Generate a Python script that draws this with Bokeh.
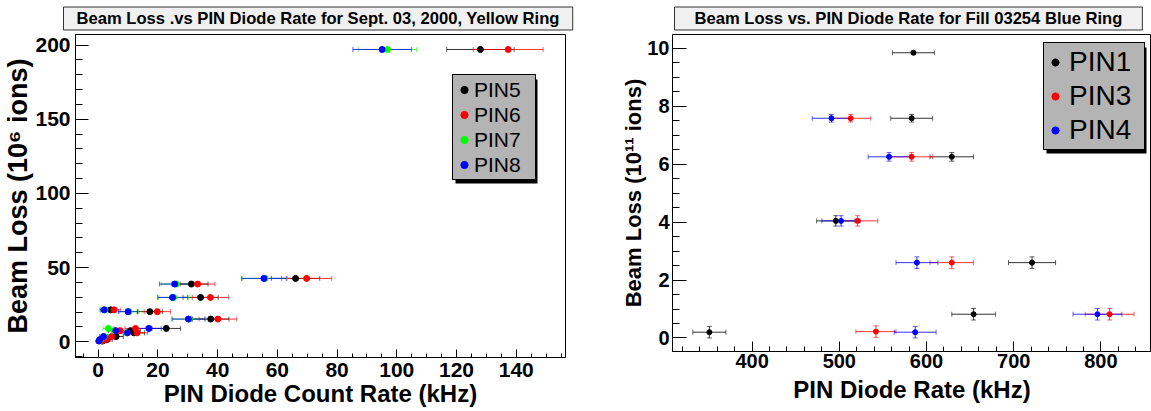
from bokeh.plotting import figure
from bokeh.models import (ColumnDataSource, Whisker, TeeHead, Legend, LegendItem,
                          BoxAnnotation, Range1d, SingleIntervalTicker)
from bokeh.layouts import row, column
from bokeh.embed import file_html
from bokeh.resources import INLINE

FONT = "Liberation Sans"

# ---------------- Left chart: Yellow ring, Sept. 03, 2000 ----------------
yellow_title = "Beam Loss .vs PIN Diode Rate for Sept. 03, 2000, Yellow Ring"
yellow_loss = [197.0, 42.7, 38.9, 29.9, 21.5, 20.3, 15.3, 9.0, 7.5, 6.0, 3.5, 1.5, 0.5]
pin5_rate = [128.0, 66.1, 31.2, 34.3, 4.2, 17.3, 37.7, 22.8, 10.8, 12.0, 6.0, 3.0, 1.5]
pin5_err = [11.3, 8.1, 5.6, 5.9, 2.0, 4.2, 6.1, 4.8, 3.3, 3.5, 2.4, 1.7, 1.2]
pin6_rate = [137.3, 69.8, 33.3, 37.6, 5.3, 19.8, 40.1, 12.5, 7.3, 13.0, 4.5, 2.5, 1.2]
pin6_err = [11.7, 8.4, 5.8, 6.1, 2.3, 4.4, 6.3, 3.5, 2.7, 3.6, 2.1, 1.6, 1.1]
pin7_rate = [96.9, 55.9, 26.2, 25.3, 2.3, 10.3, 30.5, 3.4, 5.5, 9.5, 2.0, 0.8, 0.3]
pin7_err = [9.8, 7.5, 5.1, 5.0, 1.5, 3.2, 5.5, 1.8, 2.3, 3.1, 1.4, 0.9, 0.5]
pin8_rate = [95.1, 55.5, 25.6, 24.9, 2.0, 10.0, 30.2, 17.0, 5.9, 9.8, 1.8, 0.6, 0.2]
pin8_err = [9.8, 7.5, 5.1, 5.0, 1.4, 3.2, 5.5, 4.1, 2.4, 3.1, 1.3, 0.8, 0.4]
yellow_series = ["PIN5", "PIN6", "PIN7", "PIN8"]

# ---------------- Right chart: Blue ring, Fill 03254 ----------------
blue_title = "Beam Loss vs. PIN Diode Rate for Fill 03254 Blue Ring"
pin1_loss = [0.20, 0.82, 2.60, 4.04, 6.25, 7.58, 9.84]
pin1_loss_err = [0.20, 0.20, 0.20, 0.18, 0.15, 0.13, 0.06]
pin1_rate = [351, 654, 721, 496, 629, 583, 585]
pin1_err = [19, 25, 27, 22, 25, 24, 24]
pin3_loss = [0.22, 0.82, 2.60, 4.04, 6.25, 7.58]
pin3_loss_err = [0.20, 0.20, 0.20, 0.18, 0.15, 0.13]
pin3_rate = [542, 810, 629, 521, 583, 513]
pin3_err = [23, 28, 25, 23, 24, 23]
pin4_loss = [0.20, 0.82, 2.60, 4.04, 6.25, 7.58]
pin4_loss_err = [0.20, 0.20, 0.20, 0.18, 0.15, 0.13]
pin4_rate = [587, 796, 589, 502, 557, 491]
pin4_err = [24, 28, 24, 22, 24, 22]
blue_series = ["PIN1", "PIN3", "PIN4"]

BLACK, RED, GREEN, BLUE = "#000000", "#ff0000", "#00ff00", "#0000ff"


def screen_box(**kw):
    return BoxAnnotation(left_units="screen", right_units="screen",
                         bottom_units="screen", top_units="screen", **kw)


def make_fig(width, height, xr, yr, borders, title, title_offset, title_pad, tick_size):
    p = figure(width=width, height=height, x_range=Range1d(*xr), y_range=Range1d(*yr),
               output_backend="svg", toolbar_location=None, title=title,
               min_border_left=borders[0], min_border_right=borders[1],
               min_border_top=borders[2], min_border_bottom=borders[3])
    p.grid.visible = False
    p.background_fill_color = "white"
    p.border_fill_color = "white"
    p.outline_line_color = "black"
    p.outline_line_width = 1
    p.outline_line_alpha = 1
    t = p.title
    t.align = "left"
    t.offset = title_offset
    t.standoff = 9
    t.text_font = FONT
    t.text_font_style = "bold"
    t.text_font_size = "16.6px"
    t.text_color = "black"
    t.background_fill_color = "#f0f0f0"
    t.border_line_color = "#333333"
    t.border_line_width = 1
    t.padding = dict(left=title_pad, right=title_pad, top=2, bottom=2)
    for ax in (p.xaxis[0], p.yaxis[0]):
        ax.axis_line_color = "black"
        ax.major_tick_line_color = "black"
        ax.minor_tick_line_color = "black"
        ax.major_tick_out = 0
        ax.minor_tick_out = 0
        ax.major_label_text_font = FONT
        ax.major_label_text_font_style = "bold"
        ax.major_label_text_font_size = tick_size
        ax.major_label_text_color = "black"
        ax.axis_label_text_font = FONT
        ax.axis_label_text_font_style = "bold"
        ax.axis_label_text_font_size = "24px"
        ax.axis_label_text_color = "black"
    return p


def add_series(p, x, xerr, y, yerr, color, size):
    src = ColumnDataSource(dict(x=x, y=y,
                                xl=[a - e for a, e in zip(x, xerr)],
                                xu=[a + e for a, e in zip(x, xerr)]))
    p.add_layout(Whisker(base="y", lower="xl", upper="xu", dimension="width", source=src,
                         line_color=color, line_width=1, line_alpha=0.8, level="underlay",
                         lower_head=TeeHead(size=5, line_color=color, line_alpha=0.6),
                         upper_head=TeeHead(size=5, line_color=color, line_alpha=0.6)))
    if yerr is not None:
        src.data["yl"] = [a - e for a, e in zip(y, yerr)]
        src.data["yu"] = [a + e for a, e in zip(y, yerr)]
        p.add_layout(Whisker(base="x", lower="yl", upper="yu", dimension="height", source=src,
                             line_color=color, line_width=1, line_alpha=0.8, level="underlay",
                             lower_head=TeeHead(size=5, line_color=color, line_alpha=0.6),
                             upper_head=TeeHead(size=5, line_color=color, line_alpha=0.6)))
    return p.scatter("x", "y", source=src, marker="circle", size=size,
                     fill_color=color, line_color=color)


def add_legend(p, renderers, labels, x, y, w, item_h, glyph_w, standoff, font_size):
    label_w = w - 4 - glyph_w - standoff
    h = 4 + item_h * len(labels)
    p.add_layout(screen_box(left=x + 3, right=x + w + 3, bottom=y - 3, top=y + h - 3,
                            fill_color="black", fill_alpha=1, line_alpha=0))
    leg = Legend(items=[LegendItem(label=l, renderers=[r]) for l, r in zip(labels, renderers)],
                 location=(x, y), orientation="vertical",
                 background_fill_color="#b4b4b4", background_fill_alpha=1,
                 border_line_color="black", border_line_width=1, border_line_alpha=1,
                 label_text_font=FONT, label_text_font_size=font_size, label_text_color="black",
                 label_height=item_h, glyph_height=item_h, glyph_width=glyph_w,
                 label_width=label_w, label_standoff=standoff, padding=2, spacing=0, margin=0)
    p.add_layout(leg)


# ---------- left figure ----------
p1 = make_fig(575, 411, (-7.6, 156.5), (-10.6, 207.1), (75, 10, 34, 54),
              yellow_title, -12, 13, "21px")
p1.xaxis.ticker = SingleIntervalTicker(interval=20, num_minor_ticks=4)
p1.yaxis.ticker = SingleIntervalTicker(interval=50, num_minor_ticks=5)
p1.xaxis.major_tick_in = 8
p1.xaxis.minor_tick_in = 4
p1.yaxis.major_tick_in = 13
p1.yaxis.minor_tick_in = 7
p1.xaxis.major_label_standoff = 5
p1.yaxis.major_label_standoff = 5
p1.xaxis.axis_label_standoff = 0
p1.yaxis.axis_label_standoff = -1
p1.xaxis.axis_label = "PIN Diode Count Rate (kHz)"
p1.yaxis.axis_label = "Beam Loss (10\u2076 ions)"
p1.yaxis.axis_label_text_font_size = "27px"

r5 = add_series(p1, pin5_rate, pin5_err, yellow_loss, None, BLACK, 6)
r6 = add_series(p1, pin6_rate, pin6_err, yellow_loss, None, RED, 6)
r7 = add_series(p1, pin7_rate, pin7_err, yellow_loss, None, GREEN, 6)
r8 = add_series(p1, pin8_rate, pin8_err, yellow_loss, None, BLUE, 6)
add_legend(p1, [r5, r6, r7, r8], yellow_series, 377, 177, 82, 25, 18, 1, "21px")

# ---------- right figure ----------
p2 = make_fig(576, 411, (308.7, 858.0), (-0.466, 10.47), (97, 0, 34, 60),
              blue_title, 2, 20, "20px")
p2.xaxis.ticker = SingleIntervalTicker(interval=100, num_minor_ticks=5)
p2.yaxis.ticker = SingleIntervalTicker(interval=2, num_minor_ticks=4)
p2.xaxis.major_tick_in = 10
p2.xaxis.minor_tick_in = 5
p2.yaxis.major_tick_in = 14
p2.yaxis.minor_tick_in = 7
p2.xaxis.major_label_standoff = 2
p2.yaxis.major_label_standoff = 3
p2.xaxis.axis_label_standoff = 5
p2.yaxis.axis_label_standoff = -2
p2.xaxis.axis_label = "PIN Diode Rate (kHz)"
p2.yaxis.axis_label = "Beam Loss (10\u00b9\u00b9 ions)"
p2.yaxis.axis_label_text_font_size = "22px"

r1 = add_series(p2, pin1_rate, pin1_err, pin1_loss, pin1_loss_err, BLACK, 5)
r3 = add_series(p2, pin3_rate, pin3_err, pin3_loss, pin3_loss_err, RED, 5)
r4 = add_series(p2, pin4_rate, pin4_err, pin4_loss, pin4_loss_err, BLUE, 5)
add_legend(p2, [r1, r3, r4], blue_series, 371, 201, 100, 34, 18, 5, "28px")

layout = row(column(p1), column(p2), spacing=0)
open("out.html", "w").write(file_html(layout, INLINE))
